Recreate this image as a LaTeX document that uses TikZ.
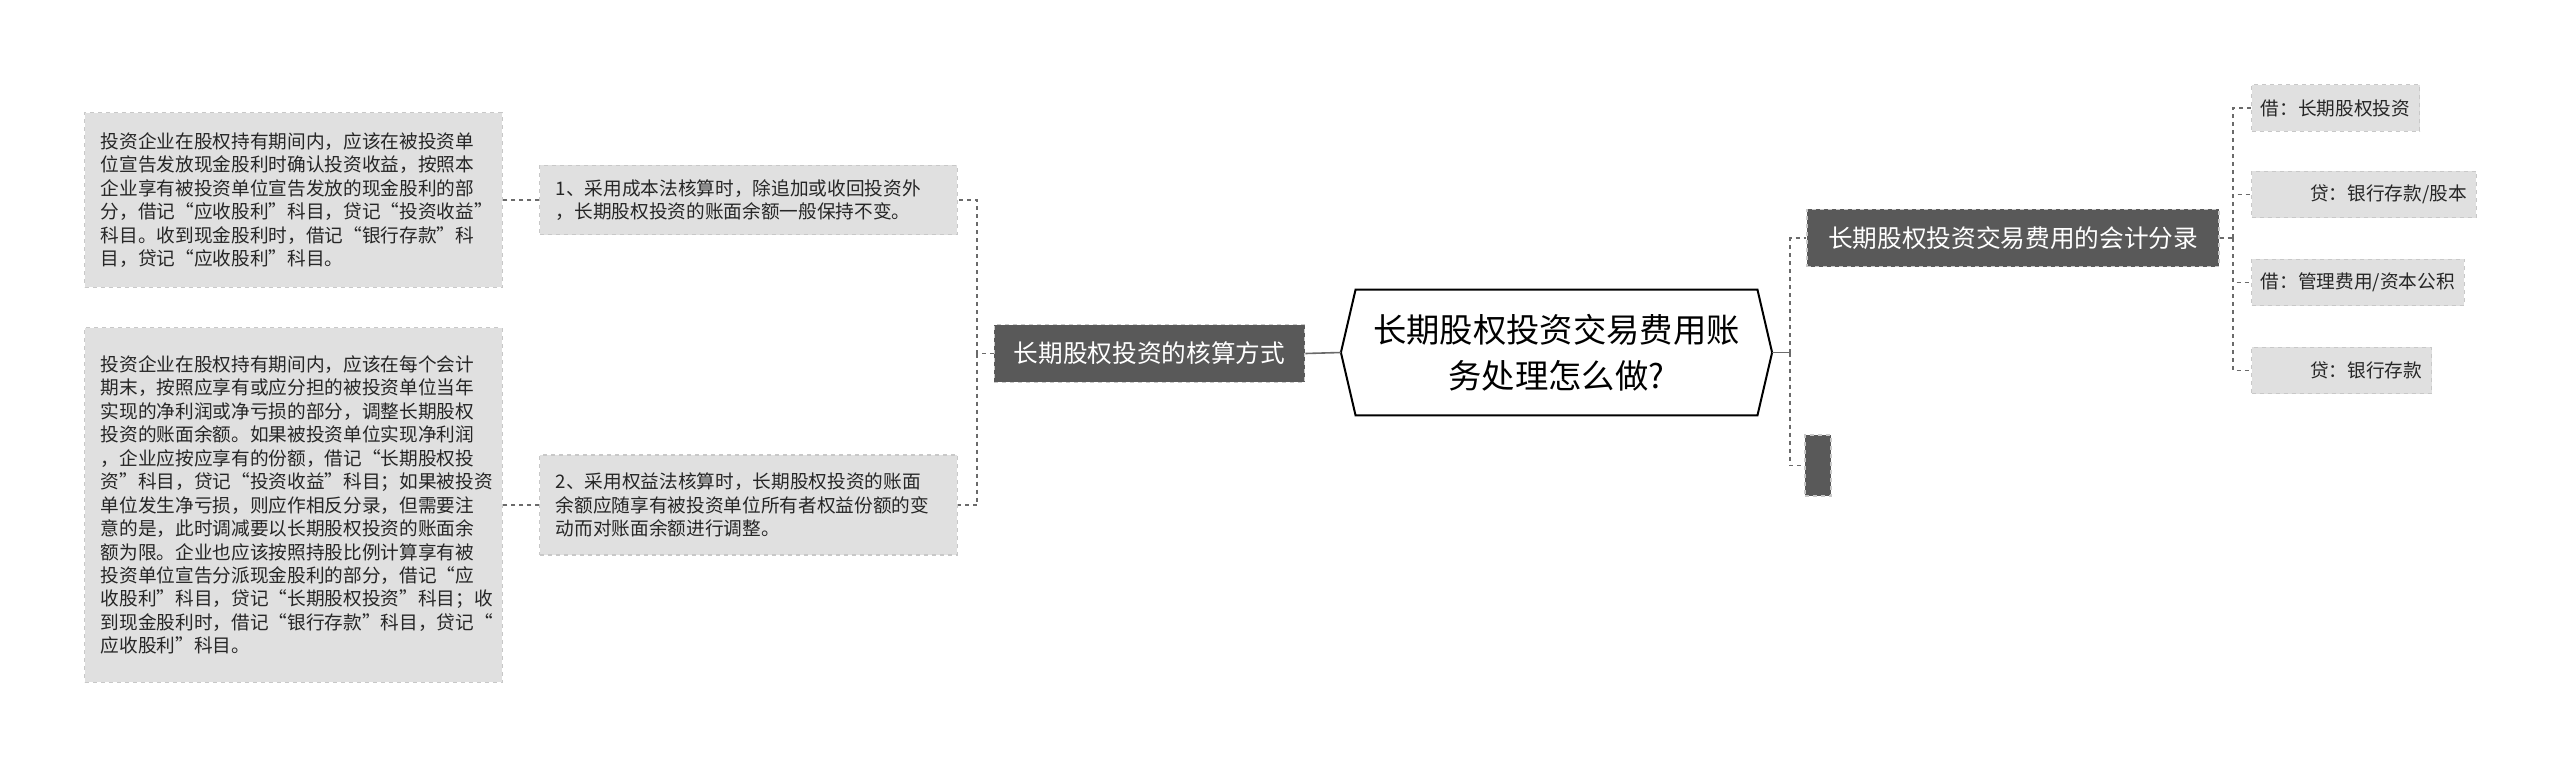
\documentclass[tikz,border=0pt]{standalone}
\usepackage{fontspec}
\setmainfont{Noto Sans CJK SC}
\begin{document}
\begin{tikzpicture}[x=0.75pt,y=-0.75pt]
\definecolor{lightbox}{HTML}{E0E0E0}
\definecolor{lightedge}{HTML}{C8C8C8}
\definecolor{darkbox}{HTML}{595959}
\definecolor{linec}{HTML}{6A6A6A}
\tikzset{
  leafbox/.style={fill=lightbox,draw=lightedge,dashed,line width=0.8pt,font=\fontsize{14pt}{17.6pt}\selectfont,align=left,inner xsep=12pt,inner ysep=8pt,text=black!85},
  smallleaf/.style={fill=lightbox,draw=lightedge,dashed,line width=0.8pt,font=\fontsize{14pt}{17pt}\selectfont,inner xsep=7pt,minimum height=35pt,anchor=west,text=black!85},
  darkbox/.style={fill=darkbox,draw=lightedge,dashed,line width=0.8pt,text=white,font=\fontsize{18.5pt}{22pt}\selectfont,inner xsep=8pt,minimum height=43pt},
  conn/.style={draw=linec,dashed,line width=1pt}
}
\useasboundingbox (0,0) rectangle (2560,764);
% center
\node[minimum width=323pt,minimum height=94pt,inner sep=0pt,align=center,font=\fontsize{25pt}{34.5pt}\selectfont] (c) at (1556.5,352.5) {长期股权投资交易费用账\\务处理怎么做?};
\draw[black,line width=1.5pt] (c.west) -- ([xshift=11pt]c.north west) -- ([xshift=-11pt]c.north east) -- (c.east) -- ([xshift=-11pt]c.south east) -- ([xshift=11pt]c.south west) -- cycle;
% left
\node[darkbox,minimum width=233pt] (l1) at (1149.5,353.5) {长期股权投资的核算方式};
\node[leafbox,text width=289pt,minimum height=52pt] (b1) at (748.5,200) {1、采用成本法核算时，除追加或收回投资外\\，长期股权投资的账面余额一般保持不变。};
\node[leafbox,text width=289pt,minimum height=75pt] (b2) at (748.5,505) {2、采用权益法核算时，长期股权投资的账面\\余额应随享有被投资单位所有者权益份额的变\\动而对账面余额进行调整。};
\node[leafbox,text width=289pt,minimum height=131pt] (a1) at (293.5,200) {投资企业在股权持有期间内，应该在被投资单\\位宣告发放现金股利时确认投资收益，按照本\\企业享有被投资单位宣告发放的现金股利的部\\分，借记“应收股利”科目，贷记“投资收益”\\科目。收到现金股利时，借记“银行存款”科\\目，贷记“应收股利”科目。};
\node[leafbox,text width=289pt,minimum height=266pt] (a2) at (293.5,505) {投资企业在股权持有期间内，应该在每个会计\\期末，按照应享有或应分担的被投资单位当年\\实现的净利润或净亏损的部分，调整长期股权\\投资的账面余额。如果被投资单位实现净利润\\，企业应按应享有的份额，借记“长期股权投\\资”科目，贷记“投资收益”科目；如果被投资\\单位发生净亏损，则应作相反分录，但需要注\\意的是，此时调减要以长期股权投资的账面余\\额为限。企业也应该按照持股比例计算享有被\\投资单位宣告分派现金股利的部分，借记“应\\收股利”科目，贷记“长期股权投资”科目；收\\到现金股利时，借记“银行存款”科目，贷记“\\应收股利”科目。};
% right
\node[darkbox,minimum width=309pt] (r1) at (2013,238) {长期股权投资交易费用的会计分录};
\node[darkbox,minimum width=19.5pt,minimum height=45.75pt,inner sep=0pt] (r2) at (1818,465.5) {};
\node[smallleaf] (p1) at (2251,108) {借：长期股权投资};
\node[smallleaf] (p2) at (2251,194.5) {\hspace*{37pt}贷：银行存款/股本};
\node[smallleaf] (p3) at (2251,282.5) {借：管理费用/资本公积};
\node[smallleaf] (p4) at (2251,370.5) {\hspace*{37pt}贷：银行存款};
% connectors
\draw[draw=linec,line width=1.2pt] (c.west) -- (l1.east);
\coordinate (lt) at (977,353.5);
\draw[conn] (l1.west) -- (lt);
\draw[conn] (lt) |- (b1.east);
\draw[conn] (lt) |- (b2.east);
\draw[conn] (b1.west) -- (a1.east);
\draw[conn] (b2.west) -- (a2.east);
\coordinate (rt) at (1790,352.5);
\draw[draw=linec,line width=1.2pt] (c.east) -- (rt);
\draw[conn] (rt) |- (r1.west);
\draw[conn] (rt) |- (r2.west);
\coordinate (pt) at (2233,238);
\draw[conn] (r1.east) -- (pt);
\foreach \p in {p1,p2,p3,p4} \draw[conn] (pt) |- (\p.west);
\end{tikzpicture}
\end{document}
